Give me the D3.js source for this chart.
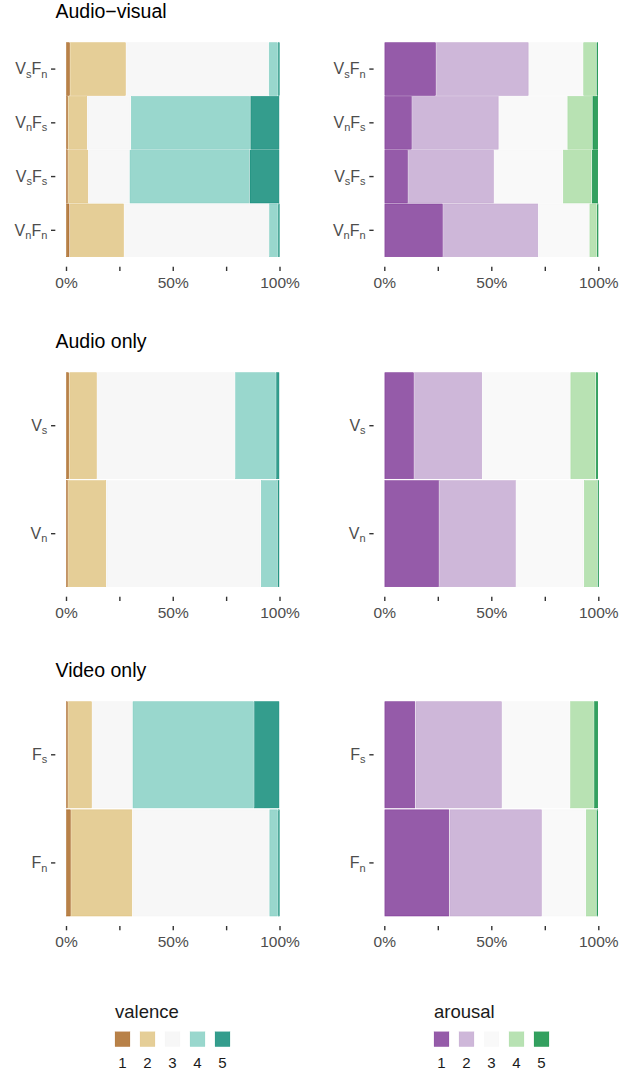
<!DOCTYPE html>
<html>
<head>
<meta charset="utf-8">
<script src="https://cdn.jsdelivr.net/npm/d3@7"></script>
<style>
  body { margin: 0; background: #fff; }
  svg { display: block; font-family: "Liberation Sans", Arial, Helvetica, sans-serif; }
</style>
</head>
<body>
<svg id="chart" width="638" height="1071"></svg>
<script>
// Rating levels and palettes (BrBG for valence, PRGn for arousal)
const levels = ["1", "2", "3", "4", "5"];
const valenceColors = ["#a6611a", "#dfc27d", "#f5f5f5", "#80cdc1", "#018571"];
const arousalColors = ["#7b3294", "#c2a5cf", "#f7f7f7", "#a6dba0", "#008837"];

// Conditions, each label given as [letter, subscript] pairs
const avConditions = [[["V", "s"], ["F", "n"]], [["V", "n"], ["F", "s"]], [["V", "s"], ["F", "s"]], [["V", "n"], ["F", "n"]]];
const aoConditions = [[["V", "s"]], [["V", "n"]]];
const voConditions = [[["F", "s"]], [["F", "n"]]];

// Percent of responses per rating level (1..5), one row per condition
const avValence = [[1.9, 26.2, 66.8, 4.4, 0.7], [1.0, 9.0, 20.3, 56.0, 13.7], [0.9, 9.6, 19.2, 56.2, 14.1], [1.7, 25.5, 67.9, 4.2, 0.7]];
const avArousal = [[24.2, 43.3, 25.4, 6.2, 0.9], [12.9, 40.6, 32.0, 11.7, 2.8], [11.1, 40.2, 32.1, 13.5, 3.1], [27.4, 44.6, 23.8, 3.5, 0.7]];
const aoValence = [[1.5, 13.0, 64.7, 19.2, 1.6], [0.9, 18.0, 72.3, 7.8, 1.0]];
const aoArousal = [[13.9, 31.9, 41.1, 11.9, 1.2], [25.6, 35.9, 31.7, 6.4, 0.4]];
const voValence = [[0.9, 11.3, 18.9, 57.0, 11.9], [2.3, 28.8, 64.1, 4.1, 0.7]];
const voArousal = [[14.5, 40.5, 31.8, 11.2, 2.0], [30.4, 43.3, 20.4, 5.0, 0.9]];

const xTicks = [0, 0.25, 0.5, 0.75, 1];
const xTickLabels = ["0%", "", "50%", "", "100%"];
const sectionTitles = ["Audio\u2212visual", "Audio only", "Video only"];

const svg = d3.select("#chart");
const labelColor = "#4d4d4d";
const tickColor = "#333333";

const sections = [
  { title: sectionTitles[0], conds: avConditions, val: avValence, aro: avArousal, top: 42.7, bottom: 256.7 },
  { title: sectionTitles[1], conds: aoConditions, val: aoValence, aro: aoArousal, top: 372.7, bottom: 586.7 },
  { title: sectionTitles[2], conds: voConditions, val: voValence, aro: voArousal, top: 701.7, bottom: 916 }
];

const columns = [
  { key: "val", colors: valenceColors, x0: 66, x1: 279.5 },
  { key: "aro", colors: arousalColors, x0: 384.3, x1: 598.3 }
];

const stack = d3.stack().keys(d3.range(levels.length)).offset(d3.stackOffsetExpand);

// Condition label: capital letter followed by a lowered, smaller subscript
function drawLabel(sel, parts) {
  const t = sel.append("text")
    .attr("text-anchor", "end")
    .attr("fill", labelColor)
    .style("font-size", "16px");
  parts.forEach(([main, sub], k) => {
    t.append("tspan").attr("dy", k === 0 ? 0 : -3.4).style("font-size", "16px").text(main);
    t.append("tspan").attr("dy", 3.4).style("font-size", "11px").text(sub);
  });
  return t;
}

sections.forEach(sec => {
  svg.append("text")
    .attr("x", 55.5).attr("y", sec.top - 24.3)
    .attr("fill", "#000")
    .style("font-size", "19.5px")
    .text(sec.title);

  columns.forEach(col => {
    const rows = sec[col.key];
    const ids = d3.range(rows.length);
    const x = d3.scaleLinear().domain([0, 1]).range([col.x0, col.x1]);
    const y = d3.scaleBand().domain(ids).range([sec.top, sec.bottom]).paddingInner(0.018);
    const color = d3.scaleOrdinal().domain(d3.range(levels.length)).range(col.colors);
    const panelLeft = col.x0 - 0.05 * (col.x1 - col.x0);

    const series = stack(rows);
    const g = svg.append("g");
    series.forEach(s => {
      g.selectAll(null)
        .data(s.map((d, i) => ({ d, i })))
        .join("rect")
        .attr("x", p => x(p.d[0]) + 0.6)
        .attr("width", p => Math.max(0.6, x(p.d[1]) - x(p.d[0]) - 1.2))
        .attr("y", p => y(p.i))
        .attr("height", y.bandwidth())
        .attr("fill", color(s.key))
        .attr("fill-opacity", 0.8)
        .attr("stroke", color(s.key))
        .attr("stroke-opacity", 0.85)
        .attr("stroke-width", 0.6);
    });

    // x axis: ticks at every quarter, labels at 0, 50 and 100%
    const xAxis = d3.axisBottom(x).tickValues(xTicks)
      .tickFormat((d, i) => xTickLabels[i])
      .tickSize(4.3).tickPadding(5.7);
    const gx = svg.append("g")
      .attr("transform", `translate(0,${sec.bottom + 10})`)
      .call(xAxis);
    gx.select(".domain").remove();
    gx.selectAll(".tick line").attr("stroke", tickColor).attr("stroke-width", 1.4);
    gx.selectAll(".tick text").filter(function () { return this.textContent === ""; }).remove();
    gx.selectAll(".tick text")
      .attr("fill", labelColor)
      .style("font-size", "15.5px")
      .style("font-family", "Liberation Sans, Arial, sans-serif");

    // y axis with subscripted condition labels
    const yAxis = d3.axisLeft(y).tickFormat("").tickSize(4.3);
    const gy = svg.append("g")
      .attr("transform", `translate(${panelLeft},0)`)
      .call(yAxis);
    gy.select(".domain").remove();
    gy.selectAll(".tick text").remove();
    gy.selectAll(".tick line").attr("stroke", tickColor).attr("stroke-width", 1.4);
    gy.selectAll(".tick").each(function (d) {
      drawLabel(d3.select(this), sec.conds[d])
        .attr("x", -8)
        .attr("y", 5.2);
    });
  });
});

// Legends
const legends = [
  { title: "valence", colors: valenceColors, x: 115 },
  { title: "arousal", colors: arousalColors, x: 434 }
];
legends.forEach(lg => {
  const g = svg.append("g").attr("transform", `translate(${lg.x},0)`);
  g.append("text").attr("x", 0).attr("y", 1018.3)
    .attr("fill", "#1a1a1a").style("font-size", "18.5px").text(lg.title);
  const kx = d3.scaleBand().domain(levels).range([0, 25 * levels.length]);
  g.selectAll("rect.key")
    .data(levels)
    .join("rect")
    .attr("class", "key")
    .attr("x", d => kx(d))
    .attr("y", 1031.7)
    .attr("width", 15).attr("height", 15)
    .attr("fill", (d, i) => lg.colors[i])
    .attr("fill-opacity", 0.8)
    .attr("stroke", (d, i) => lg.colors[i])
    .attr("stroke-opacity", 0.3)
    .attr("stroke-width", 0.5);
  g.selectAll("text.lab")
    .data(levels)
    .join("text")
    .attr("class", "lab")
    .attr("x", d => kx(d) + 7.5)
    .attr("y", 1067.5)
    .attr("text-anchor", "middle")
    .attr("fill", "#1a1a1a")
    .style("font-size", "15px")
    .text(d => d);
});
</script>
</body>
</html>
